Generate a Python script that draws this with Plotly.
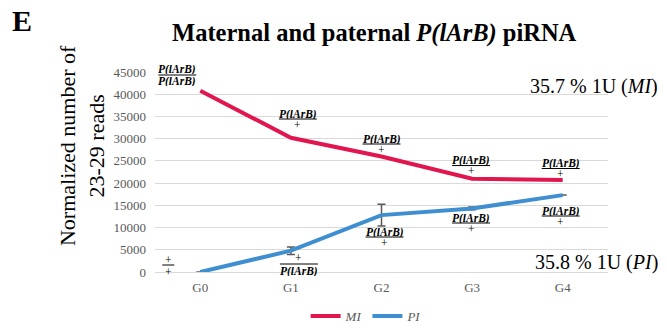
import plotly.graph_objects as go

# Generations on the x axis
generations = ["G0", "G1", "G2", "G3", "G4"]

# Normalized number of 23-29 nt reads
mi_reads = [40800, 30200, 26000, 21000, 20700]
pi_reads = [0, 4800, 12800, 14300, 17300]
pi_err = [0, 850, 2450, 300, 0]

y_ticks = [0, 5000, 10000, 15000, 20000, 25000, 30000, 35000, 40000, 45000]
Y_MAX = 45000

# Genotype labels: (generation index, numerator, denominator, y numerator, y denominator, x shift)
geno = "<b><i>P(lArB)</i></b>"
genotype_labels = [
    (0, geno, geno, 45675, 42975, -23),
    (0, "+", "+", 2925, 225, -32),
    (1, geno, "+", 35550, 33300, 7),
    (1, "+", geno, 3375, 225, 8),
    (2, geno, "+", 29925, 27675, 0),
    (2, geno, "+", 9000, 6750, 3),
    (3, geno, "+", 25100, 22800, -1),
    (3, geno, "+", 12150, 9900, -1),
    (4, geno, "+", 24420, 22140, -2),
    (4, geno, "+", 13725, 11475, -2),
]

SERIF = "Liberation Serif, Times New Roman, serif"
RED = "#E2164F"
BLUE = "#3E8ED0"
GREY = "#595959"

fig = go.Figure()
fig.add_trace(go.Scatter(
    x=generations, y=mi_reads, mode="lines", name="<i>MI</i>",
    line=dict(color=RED, width=4),
))
fig.add_trace(go.Scatter(
    x=generations, y=pi_reads, mode="lines", name="<i>PI</i>",
    line=dict(color=BLUE, width=4),
    error_y=dict(type="data", array=pi_err, visible=True,
                 color=GREY, thickness=1.5, width=4),
))


def label(gen, y, text, dx):
    # Labels above the axis range are placed relative to the top edge so they stay visible
    ann = dict(x=gen, xref="x", text=text, showarrow=False, xshift=dx,
               height=9, valign="middle",
               font=dict(family=SERIF, size=11.5, color="#000000"))
    if y > Y_MAX:
        ann.update(y=Y_MAX, yref="y", yshift=(y - Y_MAX) / Y_MAX * 200)
    else:
        ann.update(y=y, yref="y")
    return ann


annotations = []
shapes = []
for gi, num, den, ynum, yden, dx in genotype_labels:
    annotations.append(label(generations[gi], ynum, num, dx))
    annotations.append(label(generations[gi], yden, den, dx))
    # Fraction bar between the two genotype halves
    half = 19 if geno in (num, den) else 6
    ybar = (ynum + yden) / 2
    shapes.append(dict(
        type="line", xref="x", yref="y", xsizemode="pixel", xanchor=gi,
        x0=dx - half, x1=dx + half, y0=ybar, y1=ybar,
        line=dict(color="#000000", width=1),
    ))

# Percentage notes on the right
annotations.append(dict(
    x=1.115, y=0.925, xref="paper", yref="paper", xanchor="right", yanchor="middle",
    text="35.7 % 1U (<i>MI</i>)", showarrow=False,
    font=dict(family=SERIF, size=20, color="#000000"),
))
annotations.append(dict(
    x=1.115, y=0.05, xref="paper", yref="paper", xanchor="right", yanchor="middle",
    text="35.8 % 1U (<i>PI</i>)", showarrow=False,
    font=dict(family=SERIF, size=20, color="#000000"),
))

# Y axis title
annotations.append(dict(
    x=-0.161, y=0.63, xref="paper", yref="paper", xanchor="center", yanchor="middle",
    text="Normalized number of<br>23-29 reads", textangle=-90, showarrow=False,
    font=dict(family=SERIF, size=22, color="#000000"),
))

# Panel letter
annotations.append(dict(
    x=-0.32, y=1.26, xref="paper", yref="paper", xanchor="left", yanchor="middle",
    text="<b>E</b>", showarrow=False,
    font=dict(family=SERIF, size=30, color="#000000"),
))

fig.update_layout(
    width=667, height=328,
    margin=dict(l=155, r=59, t=72, b=56, autoexpand=False),
    paper_bgcolor="white", plot_bgcolor="white",
    title=dict(
        text="<b>Maternal and paternal <i>P(lArB)</i> piRNA</b>",
        x=0.561, xanchor="center", y=0.902, yanchor="middle",
        font=dict(family=SERIF, size=24.5, color="#000000"),
    ),
    xaxis=dict(
        type="category", range=[-0.5, 4.5], showgrid=False, zeroline=False,
        showline=False, ticks="", ticklabelstandoff=6,
        tickfont=dict(family=SERIF, size=13, color=GREY),
    ),
    yaxis=dict(
        range=[0, Y_MAX], tickvals=y_ticks, tickformat="d", showgrid=True,
        gridcolor="#D9D9D9", gridwidth=1.3, zeroline=True,
        zerolinecolor="#D9D9D9", zerolinewidth=1.3,
        showline=False, ticks="", ticklabelstandoff=8,
        tickfont=dict(family=SERIF, size=13, color=GREY),
    ),
    legend=dict(
        orientation="h", x=0.466, xanchor="center", y=-0.22, yanchor="middle",
        font=dict(family=SERIF, size=13, color=GREY), itemwidth=30,
    ),
    annotations=annotations,
    shapes=shapes,
    hovermode=False,
)

fig.write_html("out.html")
